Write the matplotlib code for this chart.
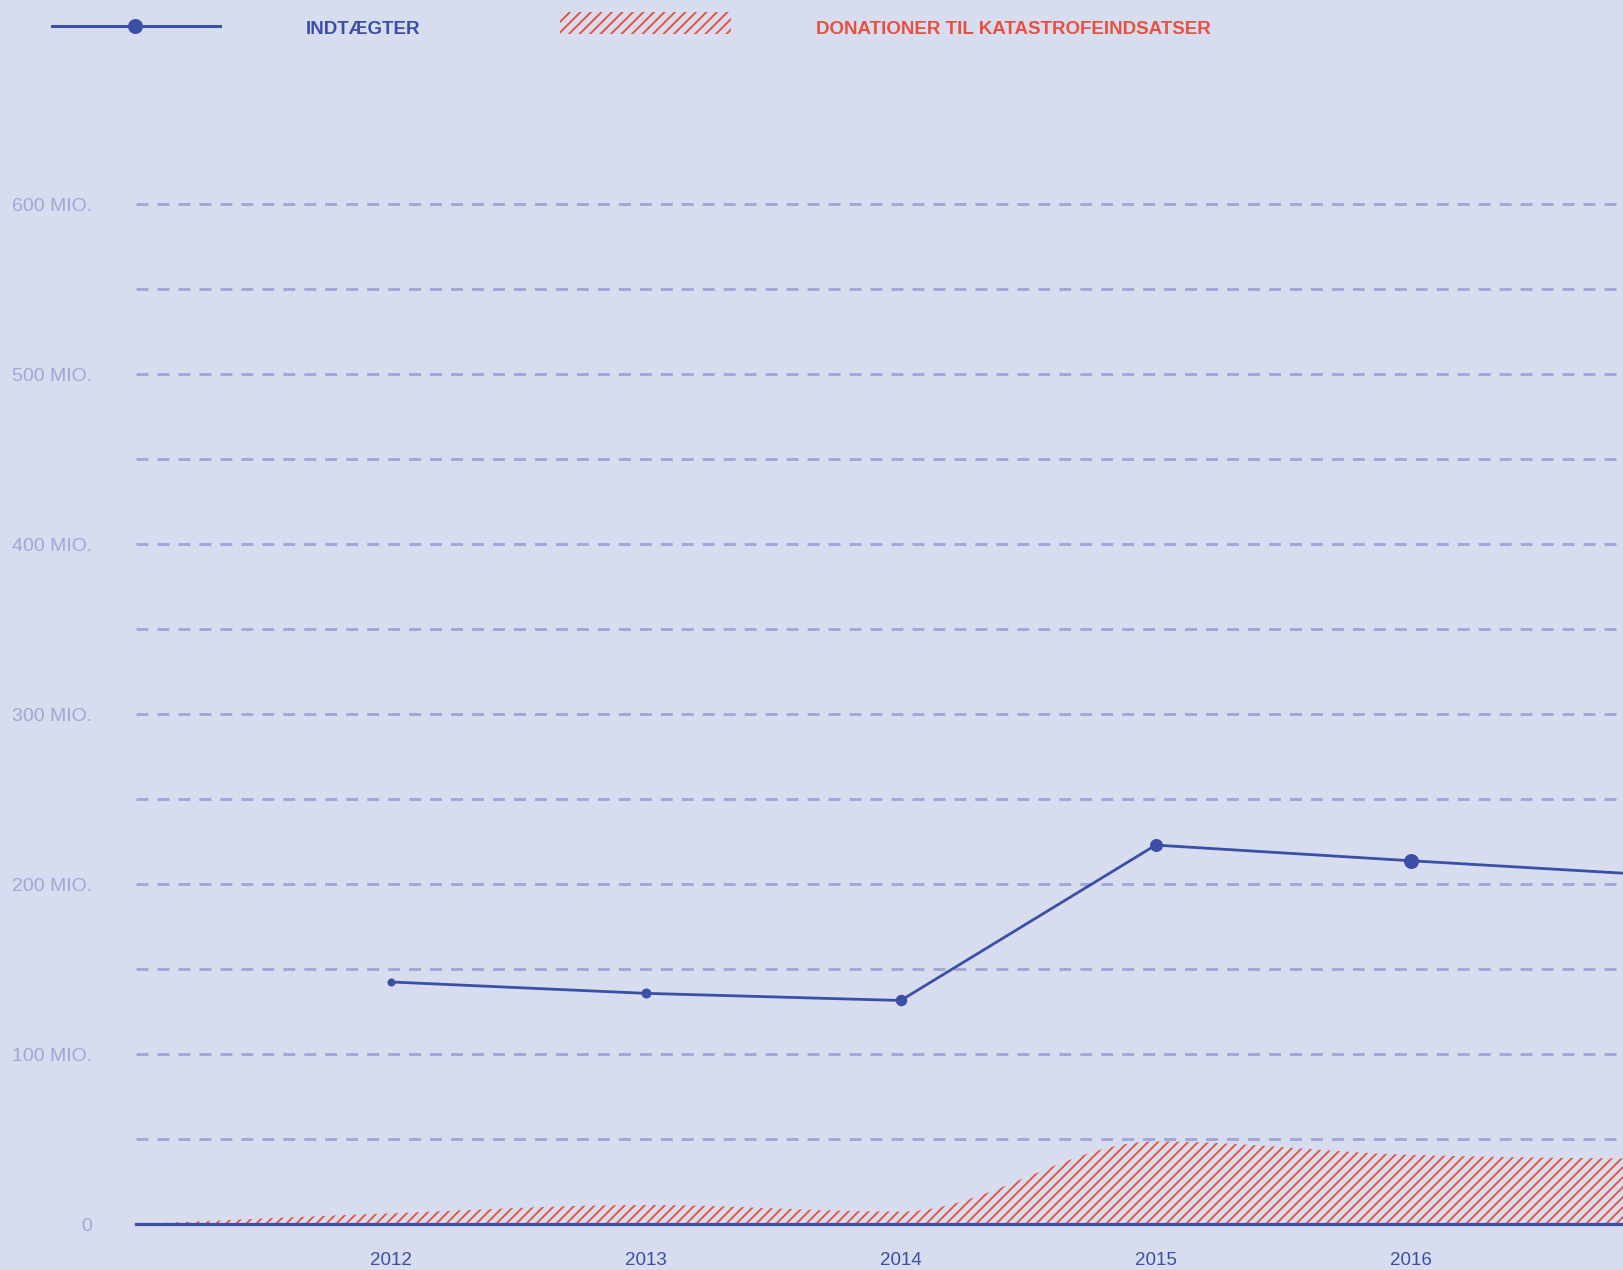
import numpy as np
import matplotlib
matplotlib.use("Agg")
import matplotlib.pyplot as plt
from matplotlib.collections import LineCollection
from matplotlib.patches import Polygon, Rectangle
from matplotlib.transforms import IdentityTransform
from matplotlib.lines import Line2D

plt.rcParams["lines.scale_dashes"] = False

# ---------------- data ----------------
income_years = [2012, 2013, 2014, 2015, 2016, 2017]
income = [142.5, 135.8, 131.6, 223.0, 213.8, 205.0]

donation_years = [2011, 2012, 2013, 2014, 2015, 2016, 2017]
donations = [0.0, 6.4, 11.3, 7.4, 48.7, 40.8, 38.5]

xtick_years = [2012, 2013, 2014, 2015, 2016]
ytick_values = [0, 100, 200, 300, 400, 500, 600]
ytick_labels = ["0", "100 MIO.", "200 MIO.", "300 MIO.", "400 MIO.", "500 MIO.", "600 MIO."]
grid_values = [50, 100, 150, 200, 250, 300, 350, 400, 450, 500, 550, 600]

legend_income = "INDTÆGTER"
legend_donations = "DONATIONER TIL KATASTROFEINDSATSER"

# ---------------- style ----------------
BG = "#d7dcee"
BLUE = "#3b4fa6"
RED = "#e8513f"
GRID = "#a1a8d8"
YLAB = "#a0a7d6"
marker_px = [8, 10, 11.5, 13, 15, 16]

W, H = 1624, 1270
DPI = 100
fig = plt.figure(figsize=(W / DPI, H / DPI), dpi=DPI, facecolor=BG)

axis_left_px = 135.7
zero_px_from_top = 1224.2
px_per_unit = 1.7
px_per_year = 255.0
ymax = 650
ax_h_px = ymax * px_per_unit
ax = fig.add_axes([axis_left_px / W, (H - zero_px_from_top) / H,
                   (W - axis_left_px) / W, ax_h_px / H])
ax.set_facecolor(BG)
ax.set_xlim(2011.0, 2011.0 + (W - axis_left_px) / px_per_year)
ax.set_ylim(0, ymax)
for sp in ax.spines.values():
    sp.set_visible(False)


def monotone_x(x, y, n=60):
    x = np.asarray(x, float)
    y = np.asarray(y, float)
    h = np.diff(x)
    s = np.diff(y) / h
    m = np.zeros_like(y)
    for i in range(1, len(x) - 1):
        h0, h1 = h[i - 1], h[i]
        s0, s1 = s[i - 1], s[i]
        p = (s0 * h1 + s1 * h0) / (h0 + h1)
        m[i] = (np.sign(s0) + np.sign(s1)) * min(abs(s0), abs(s1), 0.5 * abs(p))
    m[0] = (3 * s[0] - m[1]) / 2
    m[-1] = (3 * s[-1] - m[-2]) / 2
    xs, ys = [], []
    for i in range(len(x) - 1):
        t = np.linspace(0, 1, n, endpoint=(i == len(x) - 2))
        hh = h[i]
        h00 = 2 * t**3 - 3 * t**2 + 1
        h10 = t**3 - 2 * t**2 + t
        h01 = -2 * t**3 + 3 * t**2
        h11 = t**3 - t**2
        xs.append(x[i] + t * hh)
        ys.append(h00 * y[i] + h10 * hh * m[i] + h01 * y[i + 1] + h11 * hh * m[i + 1])
    return np.concatenate(xs), np.concatenate(ys)


# grid lines
for g in grid_values:
    ax.axhline(g, color=GRID, lw=2.1, dashes=(8.6, 6.5), zorder=1)

# donations area (hatched)
cx, cy = monotone_x(donation_years, donations)
verts = np.column_stack([np.r_[cx, cx[::-1]], np.r_[cy, np.zeros_like(cy)]])
poly = Polygon(verts, closed=True, facecolor="none", edgecolor="none")
ax.add_patch(poly)

span = 3000
segs = [[(c, -100), (c + span, -100 + span)] for c in np.arange(-span, W + 100, 10.0)]
hatch = LineCollection(segs, colors=RED, linewidths=1.35, transform=IdentityTransform(), zorder=2)
ax.add_collection(hatch, autolim=False)
hatch.set_clip_path(poly)

# baseline
ax.axhline(0, color=BLUE, lw=2.3, zorder=4, clip_on=False)

# income line
ax.plot(income_years, income, color=BLUE, lw=2.0, zorder=5, solid_capstyle="round")
for xv, yv, ms in zip(income_years, income, marker_px):
    ax.plot([xv], [yv], "o", color=BLUE, ms=ms * 0.72, mec=BLUE, mew=0, zorder=6)

# ticks
ax.set_yticks(ytick_values)
ax.set_yticklabels(ytick_labels)
ax.tick_params(axis="y", length=0, pad=31.5, labelcolor=YLAB, labelsize=14)
for lab in ax.get_yticklabels():
    lab.set_family(["Liberation Sans", "DejaVu Sans"])

ax.set_xticks(xtick_years)
ax.set_xticklabels([str(y) for y in xtick_years])
ax.tick_params(axis="x", length=0, pad=20, labelcolor=BLUE, labelsize=13.5)
for lab in ax.get_xticklabels():
    lab.set_family(["Liberation Sans", "DejaVu Sans"])

# ---------------- legend ----------------
ly = H - 26
fig.add_artist(Line2D([52, 219.6], [ly, ly], color=BLUE, lw=2.2, transform=IdentityTransform()))
fig.add_artist(Line2D([134.6], [ly], marker="o", ms=15 * 0.72, color=BLUE, mew=0,
                      transform=IdentityTransform()))
fig.text(306 / W, (H - 34) / H, legend_income, ha="left", va="baseline", color=BLUE,
         fontsize=13.5, fontweight="bold", family=["Liberation Sans", "DejaVu Sans"])

rect = Rectangle((560, H - 34), 171, 22, transform=IdentityTransform(),
                 facecolor="none", edgecolor="none")
lsegs = [[(c, H - 60), (c + 80, H + 20)] for c in np.arange(480, 760, 10.5)]
lh = LineCollection(lsegs, colors=RED, linewidths=1.4, transform=IdentityTransform())
fig.add_artist(lh)
lh.set_clip_path(rect)

fig.text(816 / W, (H - 34) / H, legend_donations, ha="left", va="baseline", color=RED,
         fontsize=13.5, fontweight="bold", family=["Liberation Sans", "DejaVu Sans"])

fig.savefig("out.png", dpi=DPI, facecolor=BG)
